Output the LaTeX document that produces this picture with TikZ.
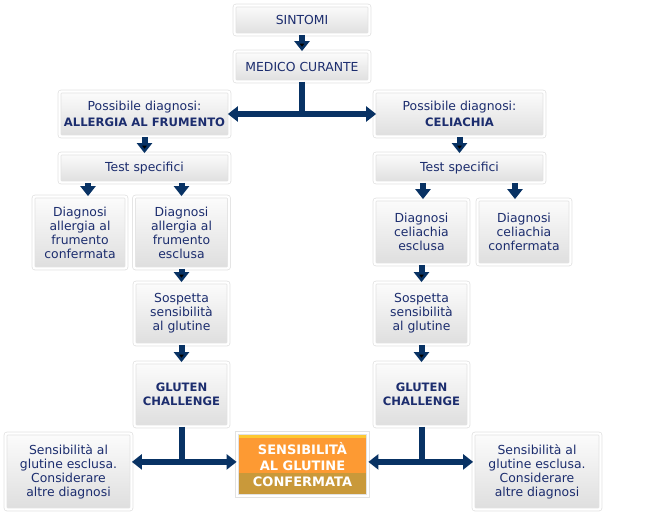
\documentclass[tikz,border=0pt]{standalone}
\usepackage{fontspec}
\setmainfont{DejaVu Sans}
\usepackage{tikz}
\usetikzlibrary{arrows.meta, calc}
\usepackage{xcolor}

\definecolor{txtblue}{RGB}{28,45,110}
\definecolor{arrblue}{RGB}{8,50,100}
\definecolor{boxtop}{RGB}{252,252,252}
\definecolor{boxbot}{RGB}{222,222,222}
\definecolor{boxline}{RGB}{226,226,226}
\definecolor{conforange}{RGB}{253,154,51}
\definecolor{confgold}{RGB}{201,153,58}
\definecolor{confyellow}{RGB}{253,200,50}

\newcommand{\boldcaps}[1]{{\bfseries\fontsize{11.6}{14}\selectfont #1}}

\begin{document}
\begin{tikzpicture}[
    x=1pt, y=-1pt,
    every node/.style={font=\fontsize{12.4}{14}\selectfont, text=txtblue, align=center, inner sep=0pt},
    greybox/.style={draw=boxline, line width=0.8pt, double=white, double distance=2.2pt,
        rounded corners=2pt, top color=boxtop, bottom color=boxbot},
    challbox/.style={greybox, font=\bfseries\fontsize{11.6}{14}\selectfont},
    confbox/.style={draw=boxline, line width=0.8pt, double=white, double distance=2.2pt,
        fill=conforange, text=white, font=\bfseries\fontsize{13}{16}\selectfont,
        path picture={
            \fill[confgold] (path picture bounding box.south west) rectangle
                ($(path picture bounding box.south east)!0.36!(path picture bounding box.north east)$);
            \fill[confyellow] (path picture bounding box.north west) rectangle
                ([yshift=-4.5pt]path picture bounding box.north east);
        }},
    arr/.style={draw=arrblue, line width=6pt, -{Triangle[width=15pt,length=10pt]}}
]
    \useasboundingbox (0,0) rectangle (656,517);

    % Boxes
    \node[greybox, minimum width=135, minimum height=29] (sintomi) at (302,20) {SINTOMI};
    \node[greybox, minimum width=135, minimum height=30] (medico) at (302,66.5) {MEDICO CURANTE};
    \node[greybox, minimum width=170, minimum height=45] (possL) at (144.5,114)
        {Possibile diagnosi:\\[2pt]\boldcaps{ALLERGIA AL FRUMENTO}};
    \node[greybox, minimum width=170, minimum height=45] (possR) at (459.5,114)
        {Possibile diagnosi:\\[2pt]\boldcaps{CELIACHIA}};
    \node[greybox, minimum width=170, minimum height=29] (testL) at (144.5,168) {Test specifici};
    \node[greybox, minimum width=170, minimum height=29] (testR) at (459.5,168) {Test specifici};

    \node[greybox, minimum width=93, minimum height=72] (diagAllC) at (80,232.5)
        {Diagnosi\\allergia al\\frumento\\confermata};
    \node[greybox, minimum width=95, minimum height=72] (diagAllE) at (181.5,232.5)
        {Diagnosi\\allergia al\\frumento\\esclusa};
    \node[greybox, minimum width=94, minimum height=65] (diagCelE) at (421.5,232)
        {Diagnosi\\celiachia\\esclusa};
    \node[greybox, minimum width=93, minimum height=65] (diagCelC) at (524,232)
        {Diagnosi\\celiachia\\confermata};

    \node[greybox, minimum width=94, minimum height=62] (sospL) at (181.5,313.5)
        {Sospetta\\sensibilità\\al glutine};
    \node[greybox, minimum width=94, minimum height=62] (sospR) at (421.5,313.5)
        {Sospetta\\sensibilità\\al glutine};
    \node[challbox, minimum width=94, minimum height=64] (glutL) at (181.5,394.5)
        {GLUTEN\\CHALLENGE};
    \node[challbox, minimum width=94, minimum height=64] (glutR) at (421.5,394.5)
        {GLUTEN\\CHALLENGE};

    \node[greybox, minimum width=126, minimum height=76] (esclL) at (68.5,471.5)
        {Sensibilità al\\glutine esclusa.\\Considerare\\altre diagnosi};
    \node[confbox, minimum width=131, minimum height=63] (conf) at (302.5,464.5)
        {SENSIBILITÀ\\AL GLUTINE\\CONFERMATA};
    \node[greybox, minimum width=127, minimum height=76] (esclR) at (537,471.5)
        {Sensibilità al\\glutine esclusa.\\Considerare\\altre diagnosi};

    % Arrows
    \path[arr]
        (sintomi) edge (medico)
        (possL) edge (testL)
        (possR) edge (testR)
        (diagAllE) edge (sospL)
        (diagCelE) edge (sospR)
        (sospL) edge (glutL)
        (sospR) edge (glutR);

    \draw[arr, shorten >=-2pt] (medico.south) |- (possL.east);
    \draw[arr, shorten >=-2pt] (medico.south) |- (possR.west);

    \draw[arr] ([xshift=8pt]diagAllC.north |- testL.south) -- ([xshift=8pt]diagAllC.north);
    \draw[arr] (diagAllE.north |- testL.south) -- (diagAllE.north);
    \draw[arr] ([xshift=1.5pt]diagCelE.north |- testR.south) -- ([xshift=1.5pt]diagCelE.north);
    \draw[arr] ([xshift=-9pt]diagCelC.north |- testR.south) -- ([xshift=-9pt]diagCelC.north);

    \coordinate (jL) at ([yshift=-35pt]glutL.south);
    \coordinate (jR) at ([yshift=-35pt]glutR.south);
    \draw[arr] (glutL.south) -- (jL) -- (jL -| esclL.east);
    \draw[arr] (jL) -- (jL -| conf.west);
    \draw[arr] (glutR.south) -- (jR) -- (jR -| esclR.west);
    \draw[arr] (jR) -- (jR -| conf.east);
\end{tikzpicture}
\end{document}
